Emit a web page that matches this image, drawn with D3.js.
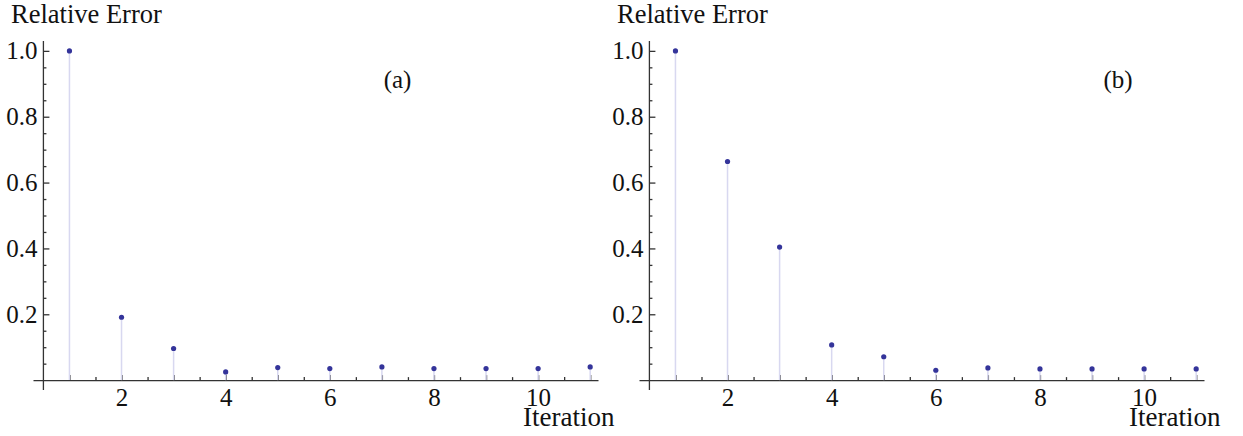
<!DOCTYPE html>
<html>
<head>
<meta charset="utf-8">
<script src="https://cdn.jsdelivr.net/npm/d3@7"></script>
<style>
  body { margin: 0; background: #fff; }
  text { font-family: "Liberation Serif", "Times New Roman", serif; fill: #111; }
  .axis path, .axis line { stroke: #333; stroke-width: 1.3; }
</style>
</head>
<body>
<script>
// data
const iterations = [1, 2, 3, 4, 5, 6, 7, 8, 9, 10, 11];
const errorA = [1.0, 0.191, 0.096, 0.025, 0.038, 0.035, 0.04, 0.035, 0.035, 0.035, 0.04];
const errorB = [1.0, 0.664, 0.404, 0.107, 0.071, 0.03, 0.037, 0.034, 0.034, 0.034, 0.034];
const xTickLabels = [2, 4, 6, 8, 10];
const yTickLabels = [0.2, 0.4, 0.6, 0.8, 1.0];
const panelLabels = ["(a)", "(b)"];
const yAxisLabel = "Relative Error";
const xAxisLabel = "Iteration";

const w = 1243;
const h = 436;

const svg = d3.select("body").append("svg").attr("width", w).attr("height", h);

const yScale = d3.scaleLinear().domain([-0.03, 1.03]).range([390, 41]);

const drawPanel = (values, label, offset, labelX) => {
  const xScale = d3.scaleLinear().domain([0.3, 11.15]).range([33 + offset, 598 + offset]);
  const g = svg.append("g");

  // x axis, ticks point up
  const xTicks = d3.range(1, 11.01, 0.5);
  const xAxis = d3.axisBottom(xScale)
    .tickValues(xTicks)
    .tickSizeInner(-4)
    .tickSizeOuter(0)
    .tickPadding(8)
    .tickFormat((d) => (xTickLabels.includes(d) ? d : ""));

  const gx = g.append("g")
    .attr("class", "axis")
    .attr("transform", `translate(0, ${yScale(0)})`)
    .call(xAxis);
  gx.selectAll(".tick line").attr("y2", (d) => (Number.isInteger(d) ? -5 : -3));
  gx.selectAll(".tick text").attr("font-size", 25).attr("dy", "0.71em");

  // y axis, ticks point right
  const yTicks = d3.range(1, 21).map((i) => +(i * 0.05).toFixed(2));
  const yAxis = d3.axisLeft(yScale)
    .tickValues(yTicks)
    .tickSizeInner(-3)
    .tickSizeOuter(0)
    .tickPadding(6)
    .tickFormat((d) => (yTickLabels.includes(d) ? d3.format(".1f")(d) : ""));

  const gy = g.append("g")
    .attr("class", "axis")
    .attr("transform", `translate(${xScale(0.5)}, 0)`)
    .call(yAxis);
  gy.selectAll(".tick line").attr("x2", (d) => (yTickLabels.includes(d) ? 6 : 3));
  gy.selectAll(".tick text").attr("font-size", 25);
  gy.select(".domain").attr("d", `M0,${yScale(-0.03)}V${yScale(1.03)}`);

  // stems
  g.append("g")
    .selectAll("line")
    .data(values)
    .enter()
    .append("line")
    .attr("x1", (d, i) => xScale(iterations[i]))
    .attr("x2", (d, i) => xScale(iterations[i]))
    .attr("y1", yScale(0))
    .attr("y2", (d) => yScale(d))
    .attr("stroke", "#d8d8f0")
    .attr("stroke-width", 1.5);

  // points
  g.append("g")
    .selectAll("circle")
    .data(values)
    .enter()
    .append("circle")
    .attr("cx", (d, i) => xScale(iterations[i]))
    .attr("cy", (d) => yScale(d))
    .attr("r", 2.6)
    .attr("fill", "#34349a");

  // labels
  g.append("text")
    .attr("x", 11 + offset)
    .attr("y", 23)
    .attr("font-size", 26.5)
    .text(yAxisLabel);

  g.append("text")
    .attr("x", 523 + offset)
    .attr("y", 426)
    .attr("font-size", 27)
    .text(xAxisLabel);

  g.append("text")
    .attr("x", xScale(labelX))
    .attr("y", 88)
    .attr("text-anchor", "middle")
    .attr("font-size", 25)
    .text(label);
};

drawPanel(errorA, panelLabels[0], 0, 7.3);
drawPanel(errorB, panelLabels[1], 606, 9.5);
</script>
</body>
</html>
